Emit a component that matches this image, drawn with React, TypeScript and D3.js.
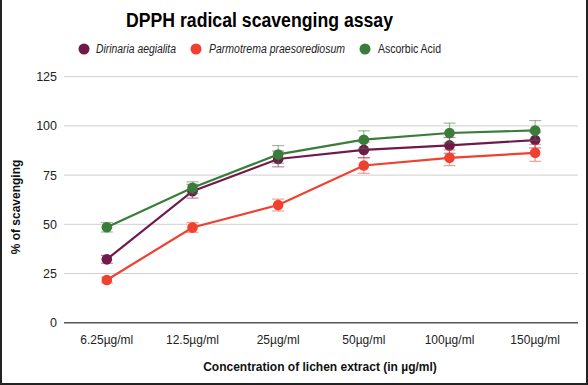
import React from "react";
import * as d3 from "d3";

const categories = ["6.25µg/ml", "12.5µg/ml", "25µg/ml", "50µg/ml", "100µg/ml", "150µg/ml"];
const seriesNames = ["Dirinaria aegialita", "Parmotrema praesorediosum", "Ascorbic Acid"];
const dirinaria = [32.2, 66.8, 83.2, 87.8, 90.1, 92.8];
const dirinariaErr = [2, 3.5, 4, 4, 4, 4];
const parmotrema = [21.7, 48.4, 59.8, 79.9, 83.8, 86.3];
const parmotremaErr = [1.5, 2.5, 3, 4, 4, 4.3];
const ascorbic = [48.5, 68.6, 85.5, 93, 96.4, 97.7];
const ascorbicErr = [2.4, 3, 4.5, 4.5, 5, 5];
const yTicks = [0, 25, 50, 75, 100, 125];
const colors = ["#6f1a4b", "#f0402f", "#3a7d3a"];

const W = 588, H = 385;
const font = "Liberation Sans, Arial, sans-serif";

export default function App() {
  const x = d3.scaleBand<string>().domain(categories).range([64, 578]);
  const y = d3.scaleLinear().domain([0, 125]).range([322.7, 76.7]);
  const data = [
    { vals: dirinaria, err: dirinariaErr },
    { vals: parmotrema, err: parmotremaErr },
    { vals: ascorbic, err: ascorbicErr },
  ];
  const cx = (c: string) => (x(c) as number) + x.bandwidth() / 2;
  const line = d3.line<number>().x((_, i) => cx(categories[i])).y((v) => y(v));
  const legendItems = [
    { cx: 84, tx: 96, len: 80, italic: true },
    { cx: 196, tx: 209, len: 136, italic: true },
    { cx: 365, tx: 378, len: 63, italic: false },
  ];
  return (
    <svg width={W} height={H} style={{ position: "absolute", left: 0, top: 0 }} fontFamily={font}>
      <rect x={0} y={0} width={W} height={H} fill="#fff" />
      <line x1={1} y1={0} x2={1} y2={H} stroke="#222" strokeWidth={2} />
      <line x1={587} y1={0} x2={587} y2={H} stroke="#222" strokeWidth={2} />
      <line x1={0} y1={384} x2={W} y2={384} stroke="#222" strokeWidth={2} />
      <text x={126} y={27} fontSize={20} fontWeight="bold" fill="#000" textLength={267} lengthAdjust="spacingAndGlyphs">DPPH radical scavenging assay</text>
      {legendItems.map((l, i) => (
        <g key={i}>
          <circle cx={l.cx} cy={49} r={5.5} fill={colors[i]} />
          <text x={l.tx} y={53} fontSize={12} fontStyle={l.italic ? "italic" : "normal"} fill="#222" textLength={l.len} lengthAdjust="spacingAndGlyphs">{seriesNames[i]}</text>
        </g>
      ))}
      {yTicks.map((t) => (
        <g key={t}>
          {t > 0 && <line x1={64} x2={578} y1={y(t)} y2={y(t)} stroke="#cfcfcf" strokeWidth={1} />}
          <text x={57} y={y(t) + 4.5} textAnchor="end" fontSize={12.5} fill="#222">{t}</text>
        </g>
      ))}
      <line x1={64} x2={578} y1={y(0)} y2={y(0)} stroke="#555" strokeWidth={1.5} />
      {categories.map((c) => (
        <text key={c} x={cx(c)} y={344} textAnchor="middle" fontSize={12} fill="#222">{c}</text>
      ))}
      <text x={320} y={371} textAnchor="middle" fontSize={12} fontWeight="bold" fill="#111">Concentration of lichen extract (in µg/ml)</text>
      <text transform={`translate(20,207) rotate(-90)`} textAnchor="middle" fontSize={12} fontWeight="bold" fill="#111">% of scavenging</text>
      {data.map((s, si) => (
        <g key={si}>
          <path d={line(s.vals) || ""} fill="none" stroke={colors[si]} strokeWidth={2.2} />
          {s.vals.map((v, i) => {
            const px = cx(categories[i]);
            const top = y(v + s.err[i]);
            const bot = y(v - s.err[i]);
            return (
              <g key={i} stroke={colors[si]} strokeOpacity={0.5} strokeWidth={1.2}>
                <line x1={px} x2={px} y1={top} y2={bot} />
                <line x1={px - 6} x2={px + 6} y1={top} y2={top} />
                <line x1={px - 6} x2={px + 6} y1={bot} y2={bot} />
              </g>
            );
          })}
          {s.vals.map((v, i) => (
            <circle key={"c" + i} cx={cx(categories[i])} cy={y(v)} r={5.3} fill={colors[si]} />
          ))}
        </g>
      ))}
    </svg>
  );
}
